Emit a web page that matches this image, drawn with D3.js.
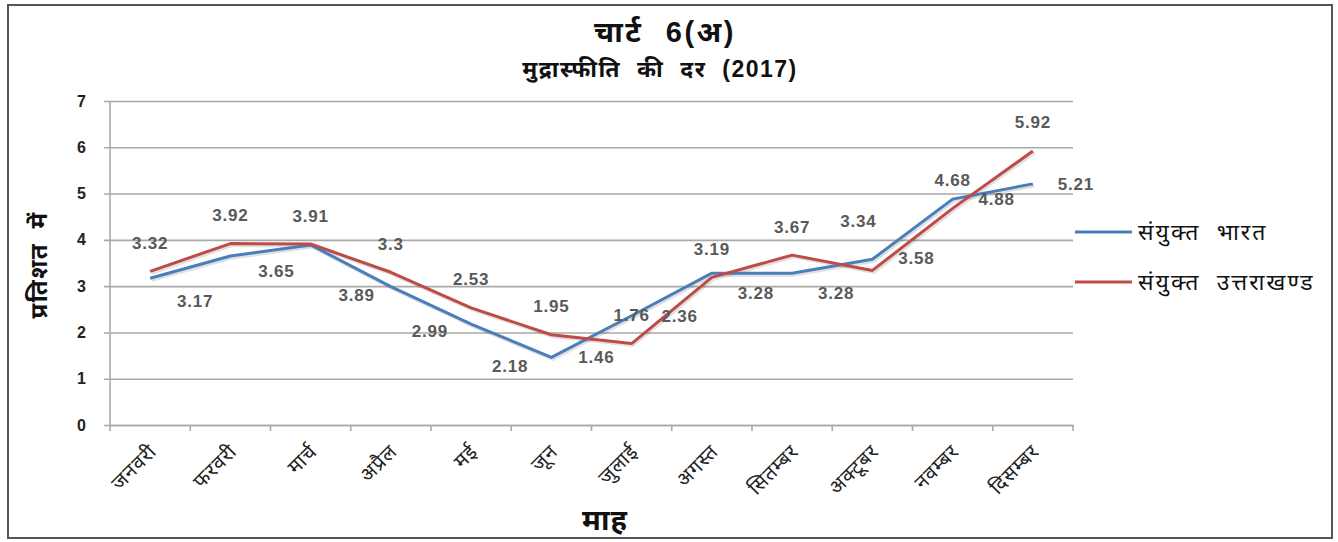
<!DOCTYPE html>
<html>
<head>
<meta charset="utf-8">
<script src="https://cdn.jsdelivr.net/npm/d3@7"></script>
<style>
  html, body { margin: 0; padding: 0; background: #fff; }
  svg { display: block; }
  text { font-family: "Liberation Sans", Arial, "Noto Sans", sans-serif; }
</style>
</head>
<body>
<script>
// ---------- data ----------
const months = ["जनवरी", "फरवरी", "मार्च", "अप्रैल", "मई", "जून", "जुलाई", "अगस्त", "सितम्बर", "अक्टूबर", "नवम्बर", "दिसम्बर"];
const seriesNames = ["संयुक्त भारत", "संयुक्त उत्तराखण्ड"];
const indiaValues = [3.17, 3.65, 3.89, 2.99, 2.18, 1.46, 2.36, 3.28, 3.28, 3.58, 4.88, 5.21];
const uttarakhandValues = [3.32, 3.92, 3.91, 3.3, 2.53, 1.95, 1.76, 3.19, 3.67, 3.34, 4.68, 5.92];
const yTicks = [0, 1, 2, 3, 4, 5, 6, 7];
const titleText = "चार्ट 6(अ)";
const subtitleText = "मुद्रास्फीति की दर (2017)";
const yAxisTitle = "प्रतिशत में";
const xAxisTitle = "माह";

// ---------- layout (label nudges in pixels, not data) ----------
const indiaLabelNudge = [[45,23],[46,15],[46,51],[39,45],[39,42],[45,0],[48,1],[44,20],[44,20],[44,-1],[44,0],[43,1]];
const ukLabelNudge = [[0,-28],[0,-28],[0,-28],[0,-28],[0,-28],[0,-28],[0,-28],[0,-28],[0,-28],[-14,-49],[0,-28],[0,-28]];
const colors = ["#4A7EBB", "#BE4B48"];

const W = 1338, H = 542;
const plot = { left: 110, right: 1073, top: 101, bottom: 425 };

const svg = d3.select("body").append("svg").attr("width", W).attr("height", H);
svg.append("rect").attr("width", W).attr("height", H).attr("fill", "#fff");
svg.append("rect").attr("x", 8).attr("y", 5).attr("width", 1324).attr("height", 533)
  .attr("fill", "none").attr("stroke", "#555").attr("stroke-width", 2);

const x = d3.scaleBand().domain(months).range([plot.left, plot.right]).padding(0);
const y = d3.scaleLinear().domain([0, 7]).range([plot.bottom, plot.top]);
const cx = m => x(m) + x.bandwidth() / 2;

// gridlines via axis
const yAxis = d3.axisLeft(y).tickValues(yTicks).tickSize(-(plot.right - plot.left)).tickPadding(24).tickFormat(d3.format("d"));
const gy = svg.append("g").attr("transform", `translate(${plot.left},0)`).call(yAxis);
gy.select(".domain").remove();
gy.selectAll(".tick line").attr("stroke", "#a9a9a9").attr("stroke-width", 1.6).attr("x1", -6);
gy.selectAll(".tick text").attr("font-size", 16).attr("font-weight", "bold").attr("fill", "#222");

// y axis line
svg.append("line").attr("x1", plot.left).attr("x2", plot.left).attr("y1", plot.top).attr("y2", plot.bottom)
  .attr("stroke", "#a9a9a9").attr("stroke-width", 1.6);

// x axis ticks at band boundaries
const xAxis = d3.axisBottom(x).tickSize(0).tickFormat("");
const gx = svg.append("g").attr("transform", `translate(0,${plot.bottom})`).call(xAxis);
gx.select(".domain").attr("stroke", "#a9a9a9").attr("stroke-width", 1.6);
const bounds = months.map(m => x(m)).concat([plot.right]);
gx.selectAll(".bt").data(bounds).enter().append("line")
  .attr("x1", d => d).attr("x2", d => d).attr("y1", 0).attr("y2", 6)
  .attr("stroke", "#a9a9a9").attr("stroke-width", 1.6);

// month labels rotated
svg.append("g").selectAll("text").data(months).enter().append("text")
  .attr("transform", d => `translate(${cx(d) + 4},${plot.bottom + 24}) rotate(-45)`)
  .attr("text-anchor", "end").attr("dominant-baseline", "middle")
  .attr("font-size", 20).attr("letter-spacing", 1).attr("fill", "#222").text(d => d);

// lines
const line = d3.line().x((d, i) => cx(months[i])).y(d => y(d));
[indiaValues, uttarakhandValues].forEach((vals, k) => {
  svg.append("path").datum(vals).attr("d", line)
    .attr("transform", "translate(1.5,2)")
    .attr("fill", "none").attr("stroke", "#000").attr("stroke-opacity", 0.12).attr("stroke-width", 3);
});
[indiaValues, uttarakhandValues].forEach((vals, k) => {
  svg.append("path").datum(vals).attr("d", line)
    .attr("fill", "none").attr("stroke", colors[k]).attr("stroke-width", 3)
    .attr("stroke-linejoin", "round");
});

// data labels
function addLabels(vals, nudges) {
  svg.append("g").selectAll("text").data(vals).enter().append("text")
    .attr("x", (d, i) => cx(months[i]) + nudges[i][0])
    .attr("y", (d, i) => y(d) + nudges[i][1])
    .attr("text-anchor", "middle").attr("dominant-baseline", "central")
    .attr("font-size", 17).attr("font-weight", "bold").attr("letter-spacing", 0.8).attr("fill", "#595959")
    .text(d => String(d));
}
addLabels(indiaValues, indiaLabelNudge);
addLabels(uttarakhandValues, ukLabelNudge);

// titles
svg.append("text").attr("x", 665).attr("y", 42).attr("text-anchor", "middle")
  .attr("font-size", 29).attr("font-weight", "bold").attr("letter-spacing", 2.5).attr("word-spacing", 12)
  .attr("fill", "#111").text(titleText);
svg.append("text").attr("x", 660).attr("y", 77).attr("text-anchor", "middle")
  .attr("font-size", 23).attr("font-weight", "bold").attr("letter-spacing", 1.5).attr("word-spacing", 8)
  .attr("fill", "#111").text(subtitleText);
svg.append("text").attr("transform", "translate(38,265) rotate(-90)").attr("text-anchor", "middle")
  .attr("dominant-baseline", "central")
  .attr("font-size", 24).attr("font-weight", "bold").attr("letter-spacing", 1.5).attr("word-spacing", 6)
  .attr("fill", "#111").text(yAxisTitle);
svg.append("text").attr("x", 605).attr("y", 530).attr("text-anchor", "middle")
  .attr("font-size", 29).attr("font-weight", "bold").attr("letter-spacing", 1)
  .attr("fill", "#111").text(xAxisTitle);

// legend
const legY = [232, 282];
seriesNames.forEach((name, k) => {
  svg.append("line").attr("x1", 1075).attr("x2", 1132).attr("y1", legY[k]).attr("y2", legY[k])
    .attr("stroke", colors[k]).attr("stroke-width", 3);
  svg.append("text").attr("x", 1138).attr("y", legY[k]).attr("dominant-baseline", "central")
    .attr("font-size", 23).attr("letter-spacing", 2).attr("word-spacing", 8)
    .attr("fill", "#111").text(name);
});
</script>
</body>
</html>
